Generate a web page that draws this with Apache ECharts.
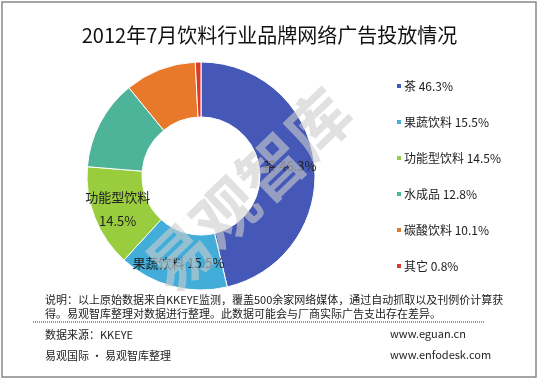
<!DOCTYPE html>
<html><head><meta charset="utf-8">
<script src="https://cdn.jsdelivr.net/npm/echarts@6/dist/echarts.min.js"></script>
<style>html,body{margin:0;padding:0;background:#fff}#c{width:539px;height:379px}</style>
</head><body><div id="c"></div>
<script>
var categories = ['茶', '果蔬饮料', '功能型饮料', '水成品', '碳酸饮料', '其它'];
var values = [46.3, 15.5, 14.5, 12.8, 10.1, 0.8];
var colors = ['#4558B7', '#42ADD9', '#9ACD3E', '#4DB399', '#E8792A', '#D93A2A'];
var titleText = '2012年7月饮料行业品牌网络广告投放情况';
var noteLines = ['说明：以上原始数据来自KKEYE监测，覆盖500余家网络媒体，通过自动抓取以及刊例价计算获',
                 '得。易观智库整理对数据进行整理。此数据可能会与厂商实际广告支出存在差异。'];
var sourceLines = ['数据来源：KKEYE', '易观国际 · 易观智库整理'];
var siteLines = ['www.eguan.cn', 'www.enfodesk.com'];
var shownLabels = {'茶': '{b} {d}%', '果蔬饮料': '{b} {d}%', '功能型饮料': '{b}\n{d}%'};

var FONT = '"Noto Sans CJK SC", "Noto Sans", sans-serif';
var chart = echarts.init(document.getElementById('c'), null, {renderer: 'canvas'});
var data = categories.map(function (n, i) {
  var lbl = shownLabels[n];
  return {
    name: n, value: values[i],
    itemStyle: {color: colors[i]},
    label: lbl ? {show: true, formatter: function (p) {
      return lbl.replace('{b}', p.name).replace('{d}', p.value.toFixed(1));
    }} : {show: false}
  };
});
var valMap = {};
categories.forEach(function (n, i) { valMap[n] = values[i]; });

chart.setOption({
  animation: false,
  backgroundColor: '#fff',
  title: {
    text: titleText, left: 'center', top: 20,
    textStyle: {fontFamily: FONT, fontSize: 20, fontWeight: 'normal', color: '#111'}
  },
  legend: {
    orient: 'vertical', left: 390, top: 74,
    icon: 'rect', itemWidth: 6, itemHeight: 6, itemGap: 22,
    data: categories,
    formatter: function (n) { return n + ' ' + valMap[n].toFixed(1) + '%'; },
    textStyle: {fontFamily: FONT, fontSize: 12, color: '#222', lineHeight: 14, padding: [0, 0, 0, -3]},
    selectedMode: false
  },
  series: [{
    type: 'pie',
    center: [201, 176],
    radius: [59, 114],
    startAngle: 90,
    clockwise: true,
    avoidLabelOverlap: false,
    itemStyle: {borderColor: '#fff', borderWidth: 1},
    label: {position: 'inside', fontFamily: FONT, fontSize: 13, color: '#222', lineHeight: 24},
    labelLine: {show: false},
    emphasis: {disabled: true},
    data: data
  }],
  graphic: [
    {type: 'rect', shape: {x: 2, y: 2, width: 534, height: 375}, z: 100,
     style: {fill: 'none', stroke: '#888', lineWidth: 1.5}},
    {type: 'text', x: 248, y: 190, rotation: Math.PI * 44 / 180, z: 50,
     style: {text: '易观智库', font: 'bold 64px ' + FONT, fill: 'rgba(205,205,205,0.6)',
             textAlign: 'center', textVerticalAlign: 'middle'}},
    {type: 'text', x: 45, y: 300, z: 60,
     style: {text: noteLines[0], font: '11px ' + FONT, fill: '#222', textVerticalAlign: 'middle'}},
    {type: 'text', x: 45, y: 314, z: 60,
     style: {text: noteLines[1], font: '11px ' + FONT, fill: '#222', textVerticalAlign: 'middle'}},
    {type: 'line', shape: {x1: 33, y1: 322, x2: 485, y2: 322}, z: 60,
     style: {stroke: '#333', lineWidth: 1, lineDash: [1, 1]}},
    {type: 'text', x: 45, y: 335, z: 60,
     style: {text: sourceLines[0], font: '11px ' + FONT, fill: '#222', textVerticalAlign: 'middle'}},
    {type: 'text', x: 45, y: 356, z: 60,
     style: {text: sourceLines[1], font: '11px ' + FONT, fill: '#222', textVerticalAlign: 'middle'}},
    {type: 'text', x: 390, y: 334, z: 60,
     style: {text: siteLines[0], font: '11px ' + FONT, fill: '#222', textVerticalAlign: 'middle'}},
    {type: 'text', x: 390, y: 355, z: 60,
     style: {text: siteLines[1], font: '11px ' + FONT, fill: '#222', textVerticalAlign: 'middle'}}
  ]
});
</script></body></html>
